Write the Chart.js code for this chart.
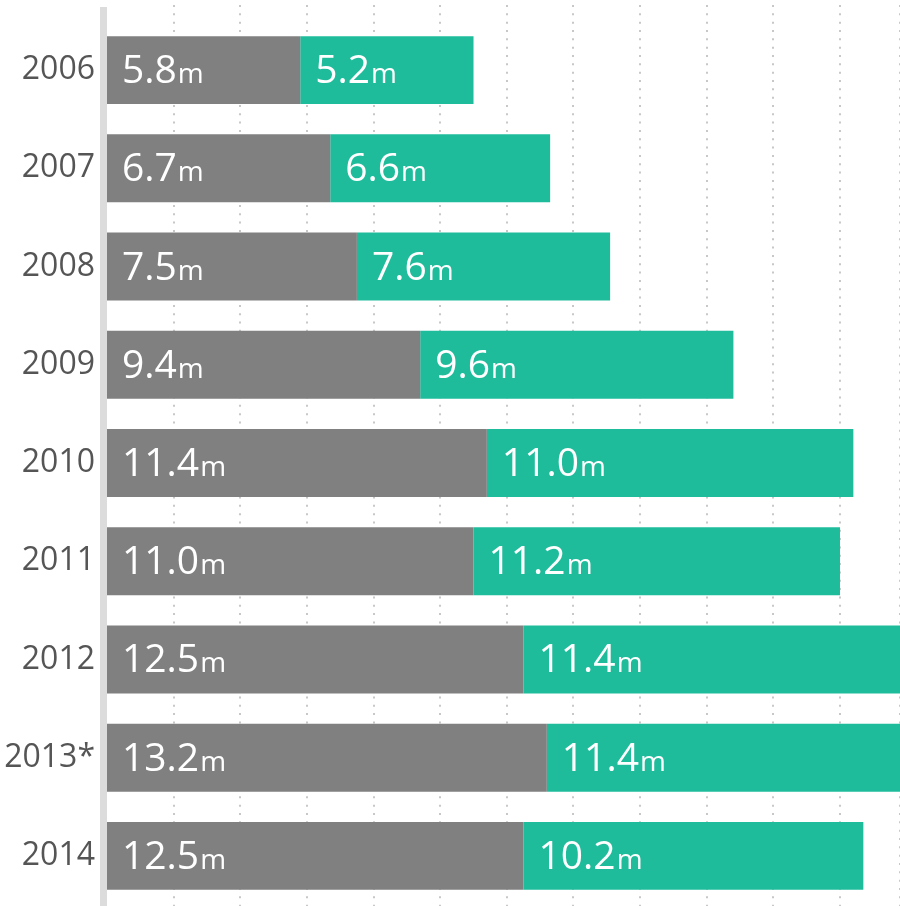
<!DOCTYPE html>
<html><head><meta charset="utf-8">
<script src="https://cdn.jsdelivr.net/npm/chart.js@4"></script>
<style>html,body{margin:0;padding:0;background:#fff}canvas{display:block}</style>
</head><body>
<canvas id="c" width="900" height="906"></canvas>
<script>
const categories = ["2006","2007","2008","2009","2010","2011","2012","2013*","2014"];
const greyValues = [5.8, 6.7, 7.5, 9.4, 11.4, 11.0, 12.5, 13.2, 12.5];
const tealValues = [5.2, 6.6, 7.6, 9.4, 11.0, 11.0, 11.4, 11.4, 10.2];
const greyLabels = [5.8, 6.7, 7.5, 9.4, 11.4, 11.0, 12.5, 13.2, 12.5];
const tealLabels = [5.2, 6.6, 7.6, 9.6, 11.0, 11.2, 11.4, 11.4, 10.2];
const labelSets = [greyLabels, tealLabels];

const decor = {
  id: 'decor',
  beforeDatasetsDraw(chart) {
    const ctx = chart.ctx, xs = chart.scales.x;
    ctx.save();
    ctx.strokeStyle = '#c8c8c8';
    ctx.lineWidth = 2;
    ctx.setLineDash([2, 6.33]);
    xs.ticks.forEach(t => {
      if (t.value <= 0) return;
      const px = Math.round(xs.getPixelForValue(t.value));
      ctx.beginPath(); ctx.moveTo(px, 5); ctx.lineTo(px, 906); ctx.stroke();
    });
    ctx.setLineDash([]);
    ctx.fillStyle = '#dcdcdc';
    ctx.fillRect(xs.left - 7, 7, 7, 906 - 7);
    ctx.restore();
  },
  afterDatasetsDraw(chart) {
    const ctx = chart.ctx;
    ctx.save();
    ctx.fillStyle = '#ffffff';
    ctx.textBaseline = 'alphabetic';
    chart.data.datasets.forEach((ds, di) => {
      const meta = chart.getDatasetMeta(di);
      meta.data.forEach((bar, i) => {
        const txt = labelSets[di][i].toFixed(1);
        const x0 = Math.min(bar.base, bar.x) + 15;
        const yb = bar.y + 13;
        ctx.font = '39px "Open Sans"';
        ctx.fillText(txt, x0, yb);
        const w = ctx.measureText(txt).width;
        ctx.font = '28px "Open Sans"';
        ctx.fillText('m', x0 + w + 1, yb);
      });
    });
    ctx.restore();
  }
};

new Chart(document.getElementById('c'), {
  type: 'bar',
  data: {
    labels: categories,
    datasets: [
      { data: greyValues, backgroundColor: '#808080', borderWidth: 0 },
      { data: tealValues, backgroundColor: '#1fbc9c', borderWidth: 0 }
    ]
  },
  options: {
    indexAxis: 'y',
    responsive: false,
    animation: false,
    devicePixelRatio: 1,
    layout: { padding: { top: 21, bottom: 1, left: 0, right: 0 } },
    plugins: { legend: { display: false }, tooltip: { enabled: false } },
    datasets: { bar: { categoryPercentage: 0.692, barPercentage: 1 } },
    scales: {
      x: {
        stacked: true, min: 0, max: 23.8, display: false,
        ticks: { stepSize: 2 }
      },
      y: {
        stacked: true,
        afterFit: s => { s.width = 107; s.paddingTop = 0; s.paddingBottom = 0; },
        grid: { display: false, drawTicks: false },
        border: { display: false },
        ticks: { color: '#555555', font: { family: 'Open Sans', size: 32 }, padding: 12 }
      }
    }
  },
  plugins: [decor]
});
</script>
</body></html>
